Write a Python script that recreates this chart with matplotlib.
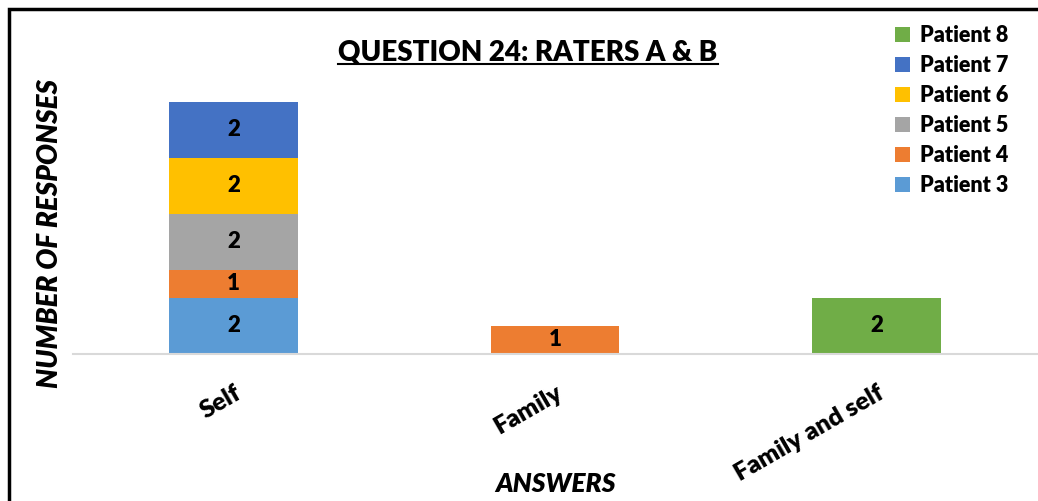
import matplotlib.pyplot as plt
import numpy as np
from matplotlib.patches import Rectangle
from matplotlib.lines import Line2D

# Data
categories = ["Self", "Family", "Family and self"]
patients = ["Patient 3", "Patient 4", "Patient 5", "Patient 6", "Patient 7", "Patient 8"]
values = {
    "Patient 3": [2, 0, 0],
    "Patient 4": [1, 1, 0],
    "Patient 5": [2, 0, 0],
    "Patient 6": [2, 0, 0],
    "Patient 7": [2, 0, 0],
    "Patient 8": [0, 0, 2],
}
colors = ["#5B9BD5", "#ED7D31", "#A5A5A5", "#FFC000", "#4472C4", "#70AD47"]

plt.rcParams['font.family'] = ['Lato', 'DejaVu Sans']
WT = 'heavy'

W, H = 1038, 501
fig = plt.figure(figsize=(W / 100, H / 100), dpi=100)
ax = fig.add_axes([73 / W, (H - 354) / H, (1037 - 73) / W, 280 / H])

x = np.arange(len(categories))
bottom = np.zeros(len(categories))
handles = []
for name, col in zip(patients, colors):
    v = np.array(values[name], dtype=float)
    bars = ax.bar(x, v, width=0.4, bottom=bottom, color=col, label=name)
    handles.append(bars)
    for xi, vi, bi in zip(x, v, bottom):
        if vi > 0:
            ax.text(xi, bi + vi / 2, str(int(vi)), ha='center', va='center',
                    fontsize=16, fontweight=WT, color='black')
    bottom += v

ax.set_xlim(-0.5, 2.5)
ax.set_ylim(0, 10)
ax.set_yticks([])
for s in ['top', 'right', 'left']:
    ax.spines[s].set_visible(False)
ax.spines['bottom'].set_color('#D9D9D9')
ax.spines['bottom'].set_linewidth(1.5)

ax.set_xticks(x)
ax.set_xticklabels(categories, rotation=30, ha='right', rotation_mode='anchor',
                   fontsize=18, fontweight=WT)
ax.tick_params(axis='x', length=0, pad=20)

ax.set_xlabel("ANSWERS", fontsize=19, fontweight=WT, fontstyle='italic')
ax.xaxis.set_label_coords(0.5, -0.42)
ax.set_ylabel("NUMBER OF RESPONSES", fontsize=20, fontweight=WT, fontstyle='italic')
ax.yaxis.set_label_coords(-0.01, 0.43)

title = fig.text(528 / W, 1 - 52 / H, "QUESTION 24: RATERS A & B", ha='center', va='center',
                 fontsize=20, fontweight=WT)

leg = fig.legend(handles[::-1], patients[::-1], loc='upper left',
                 bbox_to_anchor=(886 / W, 1 - 16 / H), frameon=False,
                 prop={'size': 15.5, 'weight': WT}, handlelength=0.7, handleheight=0.7,
                 handletextpad=0.5, labelspacing=0.42, borderaxespad=0)

# underline the title
fig.canvas.draw()
bb = title.get_window_extent().transformed(fig.transFigure.inverted())
fig.add_artist(Line2D([bb.x0, bb.x1], [bb.y0 + 0.002, bb.y0 + 0.002], color='black', lw=1.5,
                      transform=fig.transFigure))

# outer frame
fig.add_artist(Rectangle((9 / W, -0.1), 1.2, 1.1 - 9 / H, transform=fig.transFigure,
                         fill=False, edgecolor='black', lw=2.5))

fig.savefig("out.png", dpi=100)
